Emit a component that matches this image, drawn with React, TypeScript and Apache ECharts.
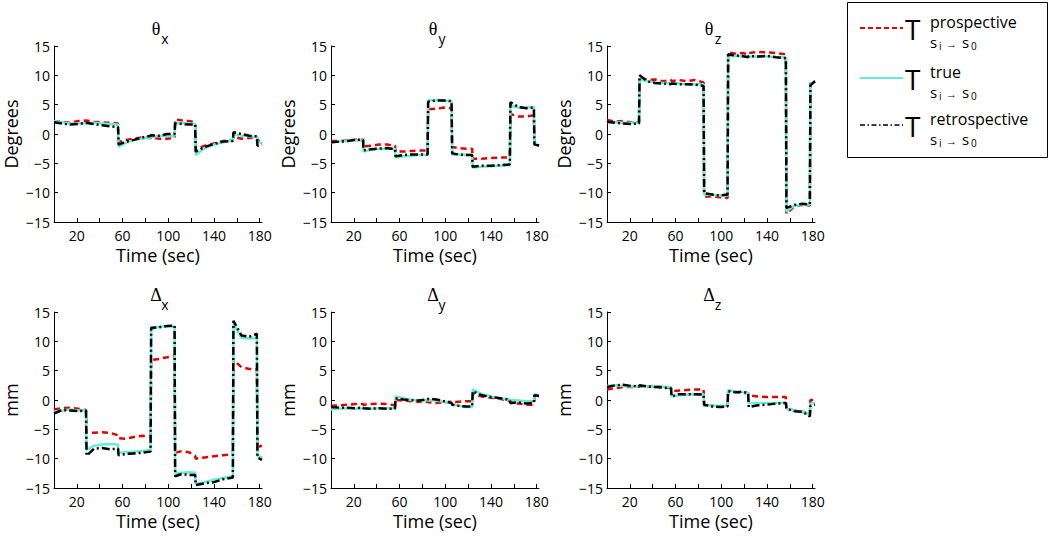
import React, { useEffect, useRef } from 'react';
import * as echarts from 'echarts';

// Sample times (sec), shared by every panel
const TIME = [0, 7, 14, 21, 28, 28.5, 35, 42, 49, 56, 56.5, 63, 70, 77, 84.5, 85, 92, 99, 105.5, 106, 112, 118, 123.5, 124, 132, 140, 148, 156.5, 157, 164, 171, 177.5, 178, 182];

const X_TICKS = [20, 40, 60, 80, 100, 120, 140, 160, 180];
const X_LABELS = [20, 60, 100, 140, 180];

// theta x (degrees)
const THX_PRO = [2.2, 2.1, 1.9, 2.2, 2.3, 2.3, 2.1, 2.0, 1.9, 1.8, -1.3, -1.0, -0.8, -0.6, -0.7, -0.6, -0.8, -0.8, -0.7, 2.5, 2.3, 2.2, 2.0, -2.5, -2.0, -1.6, -1.2, -1.0, -0.5, -0.8, -0.7, -0.4, -1.0, -1.5];
const THX_TRUE = [2.2, 2.0, 1.8, 1.8, 1.8, 1.8, 1.9, 1.8, 1.7, 1.6, -2.2, -1.5, -1.0, -0.8, -0.6, -0.5, -0.3, -0.3, -0.3, 1.8, 1.9, 1.8, 1.7, -3.6, -2.4, -1.8, -1.4, -1.0, 0.0, -0.3, -0.4, -0.5, -1.2, -1.6];
const THX_RETRO = [2.0, 1.8, 1.6, 1.7, 1.9, 1.9, 1.7, 1.5, 1.3, 1.2, -1.8, -1.3, -1.0, -0.6, -0.3, -0.2, -0.3, 0.0, 0.0, 1.8, 1.7, 1.6, 1.6, -3.0, -2.2, -1.7, -1.3, -1.2, 0.3, 0.0, -0.3, -0.4, -2.0, -1.8];

// theta y (degrees)
const THY_PRO = [-1.2, -1.2, -1.1, -1.0, -1.0, -2.1, -2.0, -1.8, -1.8, -2.0, -3.0, -3.0, -2.9, -2.8, -2.8, 4.2, 4.3, 4.5, 4.4, -2.2, -2.4, -2.5, -2.5, -4.2, -4.2, -4.1, -4.0, -4.0, 3.4, 3.0, 3.0, 3.2, -1.8, -2.0];
const THY_TRUE = [-1.5, -1.3, -1.2, -1.1, -1.1, -3.0, -2.7, -2.5, -2.5, -2.5, -4.0, -3.8, -3.7, -3.6, -3.6, 5.7, 5.8, 5.7, 5.6, -3.5, -3.5, -3.5, -3.6, -5.7, -5.6, -5.5, -5.4, -5.3, 4.8, 4.5, 4.5, 4.6, -1.5, -2.0];
const THY_RETRO = [-1.4, -1.3, -1.2, -1.0, -1.0, -2.8, -2.6, -2.5, -2.4, -2.6, -3.8, -3.6, -3.5, -3.5, -3.5, 5.5, 5.7, 5.7, 5.6, -3.3, -3.5, -3.6, -3.6, -5.6, -5.4, -5.4, -5.3, -5.2, 5.4, 4.6, 4.4, 4.5, -1.7, -2.0];

// theta z (degrees)
const THZ_PRO = [2.4, 2.1, 2.2, 2.0, 2.0, 9.8, 9.2, 9.3, 9.0, 9.2, 9.0, 9.2, 9.0, 9.2, 8.8, -10.7, -10.6, -10.8, -10.9, 13.9, 13.7, 13.8, 13.6, 13.8, 14.0, 13.9, 13.8, 13.6, -13.6, -12.3, -12.1, -12.2, 8.8, 9.0];
const THZ_TRUE = [2.0, 2.0, 1.9, 1.9, 1.9, 9.4, 9.0, 8.8, 8.7, 8.7, 8.6, 8.6, 8.5, 8.5, 8.5, -10.3, -10.4, -10.5, -10.5, 13.3, 13.3, 13.2, 13.2, 13.2, 13.2, 13.2, 13.1, 13.1, -13.2, -12.2, -12.1, -12.0, 8.5, 9.0];
const THZ_RETRO = [2.1, 1.9, 1.8, 1.7, 1.8, 10.0, 9.0, 8.7, 8.6, 8.5, 8.6, 8.5, 8.5, 8.4, 8.2, -10.1, -10.3, -10.5, -10.3, 13.6, 13.4, 13.3, 13.1, 13.3, 13.2, 13.3, 13.1, 12.9, -12.6, -12.1, -11.9, -12.0, 8.3, 9.0];

// delta x (mm)
const DX_PRO = [-1.6, -1.4, -1.3, -1.5, -1.7, -5.5, -5.6, -5.5, -5.6, -6.0, -6.5, -6.6, -6.3, -6.1, -6.2, 6.8, 7.0, 7.3, 7.6, -9.0, -8.7, -8.9, -9.5, -10.0, -9.8, -9.6, -9.4, -9.3, 6.8, 5.6, 5.3, 5.2, -8.0, -7.8];
const DX_TRUE = [-2.0, -1.8, -1.6, -1.8, -1.7, -8.5, -7.8, -7.6, -7.5, -7.6, -9.0, -8.9, -8.8, -8.7, -8.5, 12.0, 12.5, 12.6, 12.5, -12.5, -12.4, -12.3, -12.4, -14.3, -14.0, -13.6, -13.3, -13.0, 13.0, 10.6, 10.5, 10.6, -9.5, -9.8];
const DX_RETRO = [-2.3, -1.7, -1.8, -1.9, -1.8, -9.5, -8.3, -8.2, -8.4, -8.3, -9.4, -9.2, -9.1, -9.0, -8.8, 12.3, 12.4, 12.6, 12.7, -13.0, -12.6, -12.8, -12.8, -14.5, -14.2, -14.0, -13.5, -13.2, 13.5, 11.0, 10.8, 11.3, -9.8, -10.2];

// delta y (mm)
const DY_PRO = [-1.0, -0.9, -0.8, -0.7, -0.7, -0.8, -0.7, -0.6, -0.7, -0.9, 0.0, -0.1, -0.2, -0.3, -0.3, -0.4, -0.5, -0.4, -0.3, -0.4, -0.3, -0.2, -0.2, 1.0, 0.6, 0.4, 0.2, -0.2, -0.5, -0.6, -0.8, -0.8, 0.5, 0.5];
const DY_TRUE = [-1.6, -1.5, -1.4, -1.5, -1.4, -1.4, -1.5, -1.4, -1.4, -1.4, 0.6, 0.3, 0.0, -0.1, 0.0, 0.0, -0.1, -0.3, -0.5, -0.7, -1.0, -1.2, -1.2, 1.8, 1.0, 0.6, 0.3, 0.1, 0.0, -0.1, -0.2, -0.2, 1.0, 0.8];
const DY_RETRO = [-1.2, -1.3, -1.3, -1.4, -1.3, -1.4, -1.5, -1.4, -1.5, -1.5, 0.3, 0.1, 0.0, -0.1, 0.1, 0.2, 0.1, -0.2, -0.5, -0.8, -1.0, -1.1, -1.1, 1.5, 0.8, 0.5, 0.3, 0.0, -0.5, -0.4, -0.6, -0.5, 0.8, 0.7];

// delta z (mm)
const DZ_PRO = [1.8, 2.0, 2.2, 2.2, 2.3, 2.3, 2.3, 2.4, 2.2, 2.0, 1.5, 1.6, 1.7, 1.8, 1.8, -1.0, -1.0, -1.1, -1.0, 1.5, 1.4, 1.2, 1.2, 0.8, 0.6, 0.5, 0.5, 0.5, -1.4, -1.8, -2.0, -2.4, 0.0, 0.0];
const DZ_TRUE = [2.4, 2.5, 2.4, 2.3, 2.4, 2.4, 2.3, 2.3, 2.2, 2.2, 0.6, 0.8, 0.9, 1.0, 1.0, -1.0, -1.0, -1.0, -1.0, 1.7, 1.4, 1.3, 1.2, -0.5, -0.5, -0.5, -0.5, -0.5, -1.4, -1.8, -2.0, -2.5, -0.6, -0.5];
const DZ_RETRO = [2.2, 2.5, 2.6, 2.4, 2.3, 2.5, 2.3, 2.2, 2.1, 2.0, 0.6, 1.0, 1.0, 1.0, 0.9, -0.8, -1.1, -1.2, -1.1, 1.5, 1.3, 1.4, 1.2, -1.2, -0.9, -0.8, -0.6, -0.5, -1.5, -1.9, -2.0, -2.8, -1.0, -0.8];

const GLYPHS = ['θ', 'θ', 'θ', 'Δ', 'Δ', 'Δ'];
const SUBS = ['x', 'y', 'z', 'x', 'y', 'z'];
const UNITS = ['Degrees', 'Degrees', 'Degrees', 'mm', 'mm', 'mm'];
const PRO = [THX_PRO, THY_PRO, THZ_PRO, DX_PRO, DY_PRO, DZ_PRO];
const TRUE_ = [THX_TRUE, THY_TRUE, THZ_TRUE, DX_TRUE, DY_TRUE, DZ_TRUE];
const RETRO = [THX_RETRO, THY_RETRO, THZ_RETRO, DX_RETRO, DY_RETRO, DZ_RETRO];

const LEGEND_SUPER = ['prospective', 'true', 'retrospective'];

const FONT = '"Open Sans", "Noto Sans", sans-serif';
const SERIF = '"Liberation Serif", "DejaVu Serif", serif';
const RED = '#e80000';
const CYAN = '#62efd4';
const BLACK = '#000000';

const LEFTS = [54, 331, 607];
const TOPS = [46, 312];
const GW = 208;
const GH = 176;

function txt(x: number, y: number, text: string, size: number, family = FONT, align = 'left') {
  return {
    type: 'text',
    x,
    y,
    silent: true,
    style: { text, fontSize: size, fontFamily: family, fill: '#000', align, verticalAlign: 'middle' },
  };
}

export default function App() {
  const ref = useRef<HTMLDivElement>(null);
  useEffect(() => {
    if (!ref.current) return;
    const chart = echarts.init(ref.current, null, { renderer: 'svg' });
    const grid: any[] = [];
    const xAxis: any[] = [];
    const yAxis: any[] = [];
    const series: any[] = [];
    const graphic: any[] = [];
    for (let i = 0; i < 6; i++) {
      const row = Math.floor(i / 3);
      const col = i % 3;
      const left = LEFTS[col];
      const top = TOPS[row];
      grid.push({ left, top, width: GW, height: GH });
      xAxis.push({
        type: 'value',
        gridIndex: i,
        min: 0,
        max: 182,
        name: 'Time (sec)',
        nameLocation: 'middle',
        nameGap: 24,
        nameTextStyle: { fontSize: 18, fontFamily: FONT, color: '#000' },
        axisLine: { show: true, onZero: false, lineStyle: { color: '#000', width: 1 } },
        axisTick: { show: true, inside: true, length: 4, customValues: X_TICKS, lineStyle: { color: '#000' } },
        axisLabel: { customValues: X_LABELS, color: '#000', fontSize: 14, fontFamily: FONT, margin: 6 },
        splitLine: { show: false },
      });
      yAxis.push({
        type: 'value',
        gridIndex: i,
        min: -15,
        max: 15,
        interval: 5,
        name: UNITS[i],
        nameLocation: 'middle',
        nameGap: 34,
        nameTextStyle: { fontSize: 18, fontFamily: FONT, color: '#000' },
        axisLine: { show: true, onZero: false, lineStyle: { color: '#000', width: 1 } },
        axisTick: { show: true, inside: true, length: 4, lineStyle: { color: '#000' } },
        axisLabel: {
          color: '#000',
          fontSize: 14,
          fontFamily: FONT,
          margin: 4,
          formatter: (v: number) => String(v).replace('-', '\u2212'),
        },
        splitLine: { show: false },
      });
      const mk = (vals: number[]) => TIME.map((t, k) => [t, vals[k]]);
      series.push({
        type: 'line', xAxisIndex: i, yAxisIndex: i, showSymbol: false, silent: true,
        data: mk(PRO[i]), lineStyle: { color: RED, width: 2.5, type: [6, 4] }, z: 2,
      });
      series.push({
        type: 'line', xAxisIndex: i, yAxisIndex: i, showSymbol: false, silent: true,
        data: mk(TRUE_[i]), lineStyle: { color: CYAN, width: 2.5, type: 'solid' }, z: 3,
      });
      series.push({
        type: 'line', xAxisIndex: i, yAxisIndex: i, showSymbol: false, silent: true,
        data: mk(RETRO[i]), lineStyle: { color: BLACK, width: 2.5, type: [8, 3, 2, 3] }, z: 4,
      });
      const cx = left + GW / 2;
      const ty = row === 0 ? 29 : 295;
      graphic.push(txt(cx - 2, ty, GLYPHS[i], 18, SERIF, 'center'));
      graphic.push(txt(cx + 7, ty + 9, SUBS[i], 14, FONT, 'center'));
    }

    // legend box
    graphic.push({
      type: 'rect', shape: { x: 847.5, y: 2.5, width: 200, height: 155 },
      style: { fill: '#fff', stroke: '#000', lineWidth: 1 }, silent: true,
    });
    const lineY = [28, 78, 125];
    const lineStyles = [
      { stroke: RED, lineWidth: 2, lineDash: [5, 3] },
      { stroke: CYAN, lineWidth: 2 },
      { stroke: BLACK, lineWidth: 1.5, lineDash: [5, 2.5, 1.5, 2.5] },
    ];
    for (let k = 0; k < 3; k++) {
      const y = lineY[k];
      graphic.push({ type: 'line', shape: { x1: 860, y1: y, x2: 903, y2: y }, style: lineStyles[k], silent: true });
      graphic.push(txt(905, y + 1, 'T', 28));
      graphic.push(txt(930, y - 6, LEGEND_SUPER[k], 16));
      graphic.push(txt(930, y + 14, 's', 15));
      graphic.push(txt(939, y + 18, 'i', 10));
      graphic.push(txt(946, y + 15, '→', 11));
      graphic.push(txt(962, y + 14, 's', 15));
      graphic.push(txt(971, y + 18, '0', 10));
    }

    chart.setOption({
      animation: false,
      backgroundColor: '#fff',
      grid,
      xAxis,
      yAxis,
      series,
      graphic,
    });
    return () => chart.dispose();
  }, []);
  return <div ref={ref} style={{ position: 'absolute', left: 0, top: 0, width: 1050, height: 536 }} />;
}
